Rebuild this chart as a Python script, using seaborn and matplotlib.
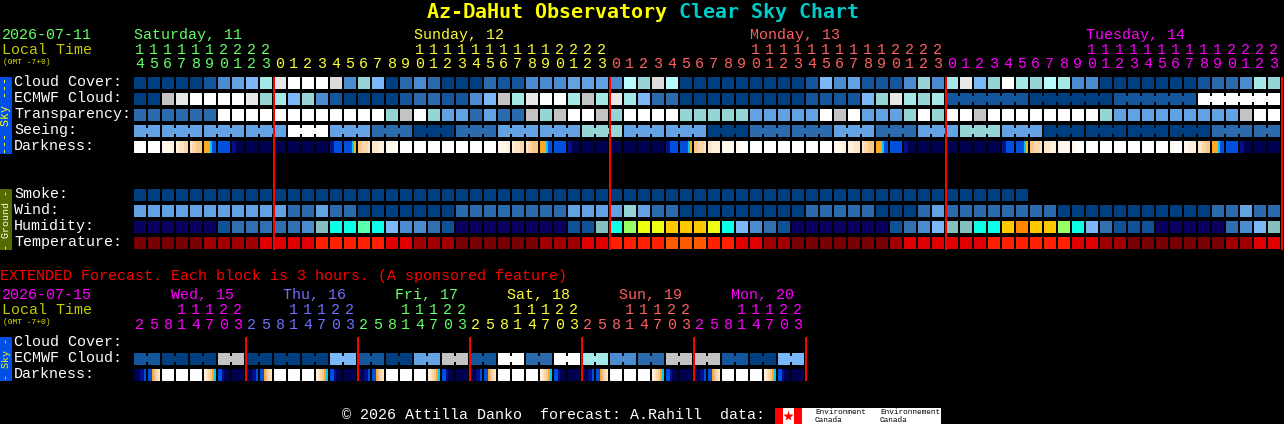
import numpy as np
import matplotlib
matplotlib.use("Agg")
import matplotlib.pyplot as plt
from matplotlib.colors import ListedColormap
from matplotlib.patches import Rectangle
import seaborn as sns

W, H = 1284, 424
FONT = "Liberation Mono"
TITLE_FONT = "DejaVu Sans Mono"

# ---------- colour scales ----------
SKY_COLORS = ["#003f7f", "#13569b", "#2b6bad", "#4b8bcf", "#63a3e3", "#7ab8f8",
              "#95d5d5", "#a5e8e8", "#b8fbfb", "#c3c3c3", "#dcdcdc", "#e8e8e8", "#ffffff"]
HUM_COLORS = ["#0a0060", "#0f5297", "#3070b0", "#4b8bcf", "#7ab8f8", "#85c0c0",
              "#0dffe8", "#5affb0", "#99ff66", "#eeff11", "#ffc800", "#ff8800"]
TEMP_COLORS = ["#780000", "#a00000", "#e00000", "#ff2000", "#ff5a00"]
DARK_COLORS = ["#ffffff", "#fff8ef", "#fff0dd", "#fde6c6", "#fbd8a8", "#f9c888",
               "#ffa820", "#00c8ff", "#0050e0", "#000e90", "#000050"]

# ---------- main forecast (one value per hour) ----------
CLOUD = [0,0,0,0,0,1,3,4,5,7,11,12,12,12,10,3,6,5,0,2,3,
         2,0,0,0,2,1,1,3,3,3,4,4,4,3,8,6,10,8,0,0,0,0,0,0,0,0,0,1,5,3,
         4,1,1,1,3,6,3,7,11,5,6,12,7,6,8,7,3,3,0,0,0,0,0,0,0,1,2,2,3,7,6]
ECMWF = [0,0,9,11,12,12,12,12,11,6,7,5,6,3,1,0,0,0,0,1,2,
         2,1,1,3,5,9,7,11,12,12,7,9,7,11,7,5,2,2,0,0,0,0,0,0,0,0,0,1,1,1,
         1,5,6,11,7,6,7,1,1,1,1,1,1,0,0,0,0,0,0,1,1,1,1,1,1,12,12,12,12,12,12]
TRANSP = [2,2,2,2,2,2,12,12,12,12,12,12,12,12,12,12,12,12,6,9,12,
          6,4,4,2,4,2,2,9,6,9,12,12,9,6,12,12,12,12,6,6,6,6,6,4,4,4,4,4,12,9,
          12,4,4,4,6,12,6,12,12,9,12,12,12,12,12,12,12,12,6,4,4,4,4,4,4,4,4,4,9,12,12]
SEEING = [4,4,4,4,4,4,4,4,4,4,4,12,12,12,4,4,4,2,2,2,0,0,0,
          2,2,2,4,4,4,4,4,4,6,6,6,4,4,4,4,4,4,0,0,0,2,2,2,2,2,2,4,4,4,
          2,2,2,4,4,4,6,6,6,4,4,4,0,0,0,0,0,0,0,0,0,0,0,0,2,2,2,2,2]
# Darkness: six levels across each hour block, one hex digit per level
DARKNESS = ["000000","000000","111122","233344","344555","666788","888888","99aaaa",
            "aaaaaa","aaaaaa","aaaaaa","aaaaaa","aaaaaa","aaaaaa","998888","888876",
            "554443","333222","111110","000000",
            "000000","000000","000000","000000","000000","000000","111122","233344",
            "344555","666788","888888","99aaaa","aaaaaa","aaaaaa","aaaaaa","aaaaaa",
            "aaaaaa","aaaaaa","998888","888876","554443","332222","111111","110000",
            "000000","000000","000000","000000","000000","000000","111122","222333",
            "344555","666788","888888","99aaaa","aaaaaa","aaaaaa","aaaaaa","aaaaaa",
            "aaaaaa","aaaaaa","998888","888876","554443","333222","211111","110000",
            "000000","000000","000000","000000","000000","000000","110000","112222",
            "334455","666788","888888","99aaaa","aaaaaa","aaaaaa"]
SMOKE = [0]*64
WIND = [4,4,4,4,4,4,4,4,4,4,4,2,2,4,2,2,0,0,0,0,0,
        0,0,2,2,2,2,2,2,2,2,4,4,4,4,6,4,2,2,0,0,0,0,0,0,0,0,0,2,2,2,
        2,2,0,0,0,2,4,2,2,2,2,2,2,2,2,0,0,0,0,0,0,0,0,0,0,0,2,2,4,2,2]
HUMIDITY = [0,0,0,0,0,0,1,2,2,2,2,2,3,5,6,6,7,6,4,3,3,
            2,1,0,0,0,0,0,0,0,0,1,1,5,6,8,9,9,10,10,10,9,6,4,3,2,1,0,0,0,0,
            0,0,0,1,2,3,4,5,5,6,6,10,11,10,10,8,6,4,2,1,1,1,0,0,0,0,0,2,3,4,5]
TEMP = [0,0,0,0,0,1,1,1,1,2,2,2,2,3,3,3,3,3,2,2,1,
        1,1,0,0,0,0,0,0,1,1,1,2,2,3,3,3,3,4,4,4,3,3,2,2,1,1,0,0,0,0,
        0,0,0,1,2,2,2,2,2,2,3,3,3,3,3,3,2,2,1,1,0,0,0,0,0,0,0,1,1,2,2]

# ---------- extended forecast ----------
EXT_ECMWF = [1,0,0,9,0,0,0,5,1,0,4,9,1,12,2,12,7,3,2,9,9,1,0,5]
EXT_DARK = ["aaa998","886543","100000","000000","000000","234567","889aaa","aaaaaa",
            "aaa998","886543","100000","000000","000000","234567","889aaa","aaaaaa",
            "aaa998","886543","100000","000000","000000","234567","889aaa","aaaaaa",
            "aaa998","886543","100000","000000","000000","234567","889aaa","aaaaaa",
            "aaa998","886543","100000","000000","000000","234567","889aaa","aaaaaa",
            "aaa998","886543","100000","000000","000000","234567","889aaa","aaaaaa"]

# ---------- labels ----------
SKY_LABELS = ["Cloud Cover:", "ECMWF Cloud:", "Transparency:", "Seeing:", "Darkness:"]
GROUND_LABELS = ["Smoke:", "Wind:", "Humidity:", "Temperature:"]
EXT_LABELS = ["Cloud Cover:", "ECMWF Cloud:", "Darkness:"]
DAYS = ["Saturday, 11", "Sunday, 12", "Monday, 13", "Tuesday, 14"]
DAY_COLORS = ["#66ff66", "#ffff33", "#ff6060", "#ff00ff"]
DAY_START_HOUR = [14, 0, 0, 0]
EXT_DAYS = ["Wed, 15", "Thu, 16", "Fri, 17", "Sat, 18", "Sun, 19", "Mon, 20"]
EXT_DAY_COLORS = ["#ff00ff", "#7070ff", "#66ff66", "#ffff33", "#ff6060", "#ff00ff"]
EXT_HOURS = [2, 5, 8, 11, 14, 17, 20, 23]

sns.set_theme(style="white")
plt.rcParams["font.family"] = [FONT, "DejaVu Sans"]
plt.rcParams["text.hinting"] = "native"
fig = plt.figure(figsize=(W / 100, H / 100), dpi=100, facecolor="black")

GAP_PT = 2 * 72 / 100
SUB = 7  # each block: six 2 px columns and one empty 2 px column


def px_axes(x, y, w, h):
    ax = fig.add_axes([x / W, 1 - (y + h) / H, w / W, h / H])
    ax.set_facecolor("black")
    return ax


def heat_row(cells, colors, y, total, x0=134):
    """Draw a 12 px tall row with seaborn: `cells` holds six levels per block."""
    ax = px_axes(x0, y, 14 * total, 12)
    data = np.full((1, total * SUB), np.nan)
    for i, levels in enumerate(cells):
        data[0, i * SUB:i * SUB + 6] = levels
    sns.heatmap(data, ax=ax, cmap=ListedColormap(colors), vmin=-0.5,
                vmax=len(colors) - 0.5, cbar=False,
                xticklabels=False, yticklabels=False)
    ax.set_facecolor("black")
    return ax


def cell_row(values, colors, y, total):
    return heat_row([[v] * 6 for v in values], colors, y, total)


def dark_row(levels, y):
    return heat_row([[int(c, 16) for c in cell] for cell in levels], DARK_COLORS, y, len(levels))


def bridge(ax, values, colors, sizes, first=0):
    """Joins the blocks of one forecast period with a short bar across the gap."""
    i = first
    for size in sizes:
        for k in range(i + 1, i + size):
            ax.fill_between([k * SUB - 1, k * SUB], 0.25, 0.75, color=colors[values[k]],
                            lw=0, zorder=5, antialiased=False)
        i += size


N = 82
cell_row(CLOUD, SKY_COLORS, 77, N)
ax = cell_row(ECMWF, SKY_COLORS, 93, N)
bridge(ax, ECMWF, SKY_COLORS, [6, 6, 6, 6], first=58)
cell_row(TRANSP, SKY_COLORS, 109, N)
ax = cell_row(SEEING, SKY_COLORS, 125, N)
bridge(ax, SEEING, SKY_COLORS, [2] + [3] * 26 + [2])
dark_row(DARKNESS, 141)
cell_row(SMOKE, SKY_COLORS, 189, N)
cell_row(WIND, SKY_COLORS, 205, N)
cell_row(HUMIDITY, HUM_COLORS, 221, N)
cell_row(TEMP, TEMP_COLORS, 237, N)

ext_vals = [v for v in EXT_ECMWF for _ in range(2)]
ax = cell_row(ext_vals, SKY_COLORS, 353, 48)
bridge(ax, ext_vals, SKY_COLORS, [2] * 24)
dark_row(EXT_DARK, 369)

# ---------- overlay in image pixels ----------
ov = fig.add_axes([0, 0, 1, 1], zorder=10)
ov.set_xlim(0, W)
ov.set_ylim(H, 0)
ov.axis("off")
ov.patch.set_alpha(0)

BASE = 10.8


def txt(x, y, s, color="white", size=BASE, family=FONT, **kw):
    kw.setdefault("ha", "left")
    kw.setdefault("va", "center")
    ov.text(x, y, s, color=color, fontsize=size, family=family, **kw)


# title
txt(427, 12, "Az-DaHut Observatory", "#ffff00", 14.4, TITLE_FONT, weight="bold")
txt(679, 12, "Clear Sky Chart", "#00cccc", 14.4, TITLE_FONT, weight="bold")

# top-left block
txt(2, 35, "2026-07-11", "#66ff66")
txt(2, 50.5, "Local Time", "#c8c800")
txt(3, 62, "(GMT -7+0)", "#e0e000", 5.8)

# day names and hour digits
cell = 0
for day, col, start in zip(DAYS, DAY_COLORS, DAY_START_HOUR):
    lab_cell = cell if start else cell + 10
    txt(134.5 + 14 * lab_cell, 35, day, col)
    for hour in range(start, 24):
        cx = 139.5 + 14 * cell
        if hour >= 10:
            txt(cx, 50, str(hour // 10), col, ha="center")
        txt(cx, 64.5, str(hour % 10), col, ha="center")
        cell += 1

for rows, y0 in ((SKY_LABELS, 82), (GROUND_LABELS, 194)):
    for k, lab in enumerate(rows):
        txt(14, y0 + 16 * k, lab)

# strips
ov.add_patch(Rectangle((0, 77), 12, 77, fc="#0050e8", ec="none"))
ov.add_patch(Rectangle((0, 189), 12, 61, fc="#556b00", ec="none"))
ov.add_patch(Rectangle((0, 337), 12, 44, fc="#0050e8", ec="none"))
txt(6, 115.5, "--- Sky ---", "#ffff00", 8.4, rotation=90, ha="center")
txt(6, 219.5, "- Ground -", "#ffffff", 7.2, rotation=90, ha="center")
txt(6, 359, "- Sky -", "#ffff00", 7.2, rotation=90, ha="center")

# extended block
txt(0, 276, "EXTENDED Forecast. Each block is 3 hours. (A sponsored feature)", "#ff0000")
txt(2, 295, "2026-07-15", "#ff00ff")
txt(2, 310.5, "Local Time", "#c8c800")
txt(3, 322, "(GMT -7+0)", "#e0e000", 5.8)
for d, (day, col) in enumerate(zip(EXT_DAYS, EXT_DAY_COLORS)):
    txt(171 + 112 * d, 295, day, col)
    for k, hour in enumerate(EXT_HOURS):
        cx = 139.5 + 14 * (d * 8 + k)
        if hour >= 10:
            txt(cx, 310, str(hour // 10), col, ha="center")
        txt(cx, 325, str(hour % 10), col, ha="center")
for k, lab in enumerate(EXT_LABELS):
    txt(14, 342 + 16 * k, lab)

# red day separators
ov.vlines([274 + 336 * k for k in range(4)], 77, 250, color="#ff0000", lw=GAP_PT)
ov.vlines([246 + 112 * k for k in range(6)], 337, 381, color="#ff0000", lw=GAP_PT)

# footer
txt(342, 415.5, "\u00a9 2026 Attilla Danko  forecast: A.Rahill  data:")
ov.add_patch(Rectangle((775, 408), 166, 16, fc="white", ec="none"))
ov.add_patch(Rectangle((775, 408), 7.5, 16, fc="#ff0000", ec="none"))
ov.add_patch(Rectangle((794, 408), 8, 16, fc="#ff0000", ec="none"))
ov.plot([788.3], [415.5], marker="*", ms=8, color="#ff0000", mec="none")
txt(815, 412, "Environment", "black", 5.5)
txt(815, 420, "Canada", "black", 5.5)
txt(880, 412, "Environnement", "black", 5.5)
txt(880, 420, "Canada", "black", 5.5)

fig.savefig("out.png", dpi=100, facecolor="black")
